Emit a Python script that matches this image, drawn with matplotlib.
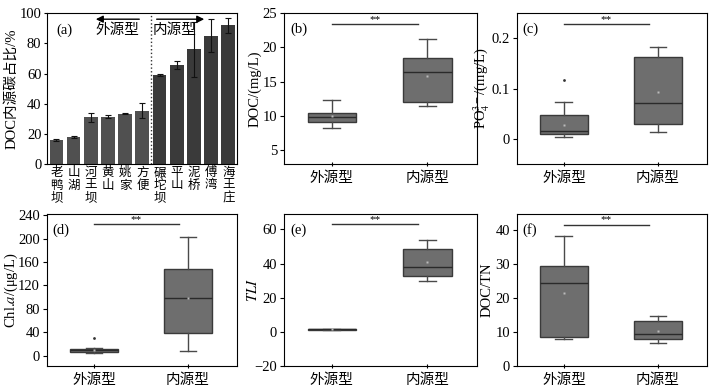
import matplotlib
matplotlib.use('Agg')
import matplotlib.pyplot as plt

plt.rcParams['font.family'] = ['Liberation Serif', 'Noto Sans CJK SC']
plt.rcParams['font.size'] = 10.5
plt.rcParams['axes.unicode_minus'] = True
plt.rcParams['mathtext.fontset'] = 'stix'

# (a) share of autochthonous DOC per reservoir
sites = ['老鸭坝', '山湖', '河王坝', '黄山', '姚家', '方便',
         '碾坨坝', '平山', '泥桥', '傅湾', '海王庄']
share = [16, 18, 31, 31.5, 33.5, 35.5, 59, 65.5, 76, 85, 92]
share_err = [0.5, 0.4, 3, 1, 0.4, 5, 0.5, 2.5, 18, 11, 5]
n_ext = 6

groups = ['外源型', '内源型']

# box stats: whislo, q1, med, q3, whishi, mean, outliers
doc_ext = [8.3, 9.1, 9.8, 10.5, 12.3, 10.0, []]
doc_int = [11.5, 12.0, 16.4, 18.4, 21.2, 15.8, []]
po4_ext = [0.003, 0.010, 0.015, 0.048, 0.073, 0.027, [0.118]]
po4_int = [0.013, 0.030, 0.072, 0.163, 0.182, 0.093, []]
chla_ext = [5, 6, 9, 12, 13, 10, [30]]
chla_int = [8, 38, 98, 148, 203, 98, []]
tli_ext = [1.0, 1.0, 1.5, 2.0, 2.0, 1.5, []]
tli_int = [30, 33, 38, 48.5, 54, 41, []]
doctn_ext = [8.0, 8.7, 24.3, 29.5, 38.3, 21.5, []]
doctn_int = [6.8, 8.0, 9.5, 13.3, 14.6, 10.3, []]


def to_stats(v, label):
    return dict(whislo=v[0], q1=v[1], med=v[2], q3=v[3], whishi=v[4],
                mean=v[5], fliers=v[6], label=label)


fig = plt.figure(figsize=(7.14, 3.87), dpi=100)

# ---- panel (a)
ax = fig.add_axes([0.0658, 0.576, 0.266, 0.390])
colors = ['#505050'] * n_ext + ['#3a3a3a'] * (len(sites) - n_ext)
ax.bar(range(len(sites)), share, width=0.8, color=colors,
       yerr=share_err, capsize=2, error_kw=dict(elinewidth=0.8, capthick=0.8, ecolor='#111111'))
ax.set_xlim(-0.55, 10.5)
ax.set_ylim(0, 100)
ax.set_yticks([0, 20, 40, 60, 80, 100])
ax.set_xticks(range(len(sites)))
ax.set_xticklabels(['\n'.join(s) for s in sites], fontsize=9, linespacing=1.07)
ax.tick_params(axis='x', length=0, pad=2)
ax.tick_params(axis='y', length=2, pad=2)
ax.axvline(n_ext - 0.5, color='#333333', linestyle=':', linewidth=1)
ax.annotate('', xy=(2.13, 96), xytext=(4.98, 96),
            arrowprops=dict(arrowstyle='-|>', color='black', lw=1))
ax.annotate('', xy=(8.76, 96), xytext=(5.67, 96),
            arrowprops=dict(arrowstyle='-|>', color='black', lw=1))
ax.text(4.85, 88.5, '外源型', ha='right', va='center', fontsize=10.5)
ax.text(5.62, 88.5, '内源型', ha='left', va='center', fontsize=10.5)
ax.text(0.05, 0.93, '(a)', transform=ax.transAxes, ha='left', va='top')
ax.set_ylabel('DOC内源碳占比/%')
ax.yaxis.set_label_coords(-0.153, 0.5)

# ---- box panels
panels = [
    ([0.398, 0.576, 0.270, 0.390], doc_ext, doc_int, (3, 25), [5, 10, 15, 20, 25], 23.4,
     'DOC/(mg/L)', '(b)', -0.119),
    ([0.724, 0.576, 0.266, 0.390], po4_ext, po4_int, (-0.05, 0.25), [0, 0.1, 0.2], 0.228,
     'PO$_4^{3-}$/(mg/L)', '(c)', -0.13),
    ([0.0658, 0.054, 0.266, 0.393], chla_ext, chla_int, (-18, 242), [0, 40, 80, 120, 160, 200, 240], 224.7,
     'Chl.$\\mathit{a}$/(μg/L)', '(d)', -0.142),
    ([0.398, 0.054, 0.270, 0.393], tli_ext, tli_int, (-20, 69), [-20, 0, 20, 40, 60], 63,
     '$\\mathit{TLI}$', '(e)', -0.124),
    ([0.724, 0.054, 0.266, 0.393], doctn_ext, doctn_int, (0, 44.7), [0, 10, 20, 30, 40], 41.6,
     'DOC/TN', '(f)', -0.121),
]

for rect, ext, inn, ylim, yticks, sig_y, ylabel, tag, lab_x in panels:
    ax = fig.add_axes(rect)
    stats = [to_stats(ext, groups[0]), to_stats(inn, groups[1])]
    ax.bxp(stats, positions=[0, 1], widths=0.51, capwidths=0.18, patch_artist=True,
           showmeans=True, showfliers=True,
           boxprops=dict(facecolor='#6e6e6e', edgecolor='#3a3a3a', linewidth=1),
           medianprops=dict(color='#2a2a2a', linewidth=1),
           whiskerprops=dict(color='#4a4a4a', linewidth=1),
           capprops=dict(color='#4a4a4a', linewidth=1),
           meanprops=dict(marker='s', markersize=1.5, markerfacecolor='#bbbbbb', markeredgecolor='none'),
           flierprops=dict(marker='o', markersize=2, markerfacecolor='#333333', markeredgecolor='none'))
    ax.set_xlim(-0.5, 1.52)
    ax.set_ylim(*ylim)
    ax.set_yticks(yticks)
    if tag == '(c)':
        ax.set_yticklabels(['0', '0.1', '0.2'])
    ax.tick_params(axis='x', length=3, direction='inout')
    ax.tick_params(axis='y', length=3, pad=2)
    ax.plot([0, 0.9], [sig_y, sig_y], color='#333333', linewidth=1)
    ax.text(0.45, sig_y, '**', ha='center', va='bottom', fontsize=8)
    ax.text(0.03, 0.94, tag, transform=ax.transAxes, ha='left', va='top')
    ax.set_ylabel(ylabel)
    ax.yaxis.set_label_coords(lab_x, 0.5)

fig.savefig('out.png', dpi=100)
